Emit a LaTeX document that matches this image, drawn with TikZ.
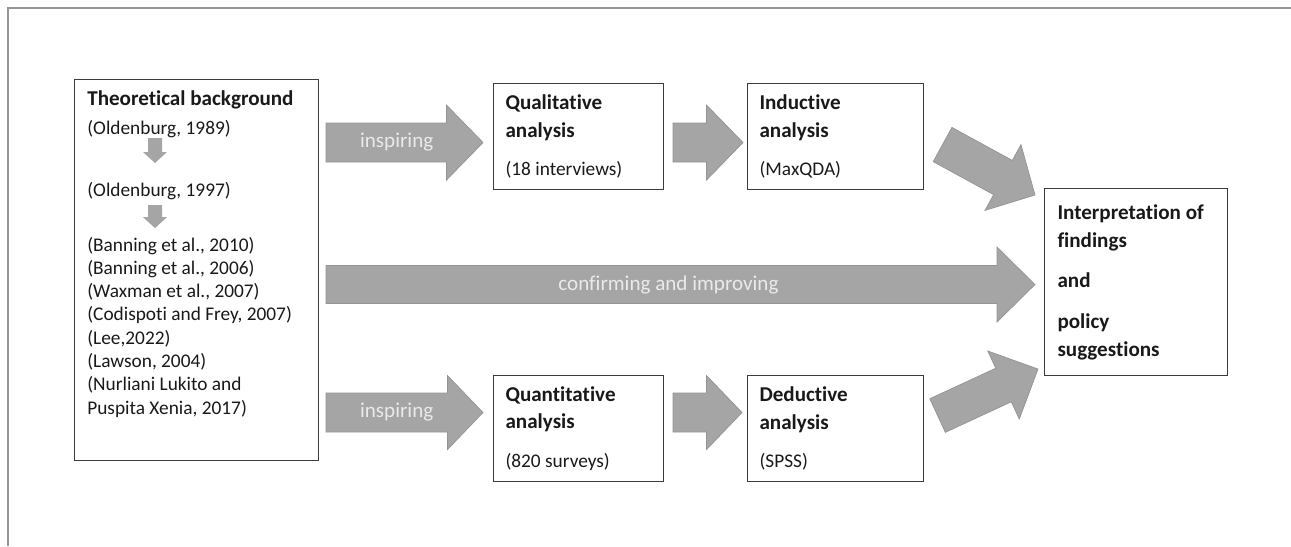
\documentclass[tikz,border=0pt]{standalone}
\usepackage{fontspec}
\setmainfont{Carlito}[Ligatures=NoCommon]
\usetikzlibrary{calc}
\definecolor{arrowgray}{RGB}{165,165,165}
\definecolor{arrowedge}{RGB}{148,148,148}
\definecolor{labelgray}{RGB}{234,234,234}
\definecolor{boxline}{RGB}{60,60,60}
\definecolor{framegray}{RGB}{150,150,150}
\definecolor{textblack}{RGB}{25,25,25}
\def\blockarrow[#1](#2)(#3)(#4:#5:#6){\coordinate (ba) at ($(#3)!#6!(#2)$);
	\filldraw[#1] ($(#2)!#4!90:(#3)$) -- ($(ba)!#4!90:(#3)$) -- ($(ba)!#5!90:(#3)$) -- (#3)
	-- ($(ba)!#5!-90:(#3)$) -- ($(ba)!#4!-90:(#3)$) -- ($(#2)!#4!-90:(#3)$) -- cycle;}
\tikzset{
	box/.style={draw=boxline, line width=0.6pt, anchor=north west, align=left, inner xsep=0.24cm, inner ysep=0pt, text=textblack, font=\bfseries\fontsize{12}{15.6}\selectfont, execute at begin node={\spaceskip=0pt\xspaceskip=0pt}},
	reftext/.style={anchor=base west, inner sep=0pt, align=left, text=textblack, font=\fontsize{11}{13.25}\selectfont},
	arrowlabel/.style={inner sep=0pt, text=labelgray, font=\fontsize{12}{14}\selectfont},
	bigarrow/.style={fill=arrowgray, draw=arrowedge, line width=0.4pt},
}
\newcommand{\sub}[1]{{\mdseries\fontsize{11}{13.25}\selectfont #1}}

\begin{document}
\begin{tikzpicture}[x=0.2cm, y=-0.2cm]
		%%%%% START %%%%%
		\useasboundingbox (0, 0) rectangle (129.1, 54.6);
		\draw[framegray, line width=0.85pt] (0.8, 54.6) -- (0.8, 0.8) -- (129.1, 0.8);
		
		% boxes
		\node[box, minimum width=4.88cm, minimum height=7.62cm] (theory) at (7.4, 7.9) {};
		\node[box, text width=2.92cm, minimum height=2.12cm] (qual) at (49.3, 8.3) {Qualitative\\analysis\\[6.3pt]\sub{(18 interviews)}};
		\node[box, text width=3.04cm, minimum height=2.12cm] (ind) at (74.7, 8.3) {Inductive\\analysis\\[6.3pt]\sub{(MaxQDA)}};
		\node[box, text width=2.92cm, minimum height=2.12cm] (quant) at (49.3, 37.5) {Quantitative\\analysis\\[6.3pt]\sub{(820 surveys)}};
		\node[box, text width=3.04cm, minimum height=2.12cm] (ded) at (74.7, 37.5) {Deductive\\analysis\\[6.3pt]\sub{(SPSS)}};
		\node[box, inner xsep=0.26cm, text width=3.14cm, minimum height=3.74cm, font=\bfseries\fontsize{12}{15.9}\selectfont] (interp) at (104.4, 18.8) {Interpretation of\\findings\\[7.1pt]and\\[7.1pt]policy\\suggestions};
		
		% theoretical background
		\node[reftext, font=\bfseries\fontsize{12}{14}\selectfont] (title) at (8.7, 10.5) {Theoretical background};
		\node[reftext] (old89) at (8.7, 13.4) {(Oldenburg, 1989)};
		\node[reftext] (old97) at (8.7, 19.6) {(Oldenburg, 1997)};
		\node[reftext] (reflist) at (8.7, 41.41) {(Banning et al., 2010)\\(Banning et al., 2006)\\(Waxman et al., 2007)\\(Codispoti and Frey, 2007)\\(Lee,2022)\\(Lawson, 2004)\\(Nurliani Lukito and\\Puspita Xenia, 2017)};
		
		\coordinate (d1tail) at ($(old89.base west)+(6.8, 0.4)$);
		\coordinate (d1tip) at ($(old97.base west)+(6.8, -3.3)$);
		\coordinate (d2tail) at ($(old97.base west)+(6.8, 0.9)$);
		\coordinate (d2tip) at ($(reflist.base west)+(6.8, -18.6)$);
		\blockarrow[bigarrow, draw=none](d1tail)(d1tip)(0.14cm:0.24cm:0.22cm)
		\blockarrow[bigarrow, draw=none](d2tail)(d2tip)(0.14cm:0.24cm:0.22cm)
		
		% block arrows
		\coordinate (insp1tail) at ($(theory.east |- qual.west)+(0.7, 0.6)$);
		\coordinate (insp1tip) at ($(qual.west)+(-1.0, 0.6)$);
		\coordinate (qitail) at ($(qual.east)+(0.9, 0.6)$);
		\coordinate (qitip) at ($(ind.west)+(-0.4, 0.6)$);
		\coordinate (iftail) at ($(ind.east)+(1.85, 0.8)$);
		\coordinate (iftip) at ($(interp.north west)+(-0.9, 0.7)$);
		\coordinate (conftail) at ($(theory.east)+(0.7, 1.45)$);
		\coordinate (conftip) at ($(interp.west)+(-0.9, 0.25)$);
		\coordinate (insp2tail) at ($(theory.east |- quant.west)+(0.7, -1.6)$);
		\coordinate (insp2tip) at ($(quant.west)+(-1.0, -1.6)$);
		\coordinate (qdtail) at ($(quant.east)+(0.9, -1.6)$);
		\coordinate (qdtip) at ($(ded.west)+(-0.5, -1.6)$);
		\coordinate (dftail) at ($(ded.east)+(1.35, -1.3)$);
		\coordinate (dftip) at ($(interp.south west)+(-0.6, -0.7)$);
		
		\blockarrow[bigarrow](insp1tail)(insp1tip)(0.39cm:0.75cm:0.73cm)
		\blockarrow[bigarrow](qitail)(qitip)(0.39cm:0.75cm:0.73cm)
		\blockarrow[bigarrow](iftail)(iftip)(0.39cm:0.75cm:0.73cm)
		\blockarrow[bigarrow](conftail)(conftip)(0.38cm:0.75cm:0.76cm)
		\blockarrow[bigarrow](insp2tail)(insp2tip)(0.39cm:0.74cm:0.71cm)
		\blockarrow[bigarrow](qdtail)(qdtip)(0.39cm:0.74cm:0.71cm)
		\blockarrow[bigarrow](dftail)(dftip)(0.37cm:0.75cm:0.76cm)
		
		\node[arrowlabel] (insp1lbl) at ($(insp1tail)!0.45!(insp1tip)$) {inspiring};
		\node[arrowlabel] (conflbl) at ($(conftail)!0.483!(conftip)$) {confirming and improving};
		\node[arrowlabel] (insp2lbl) at ($(insp2tail)!0.45!(insp2tip)$) {inspiring};
		%%%%% END %%%%%
	\end{tikzpicture}
\end{document}
